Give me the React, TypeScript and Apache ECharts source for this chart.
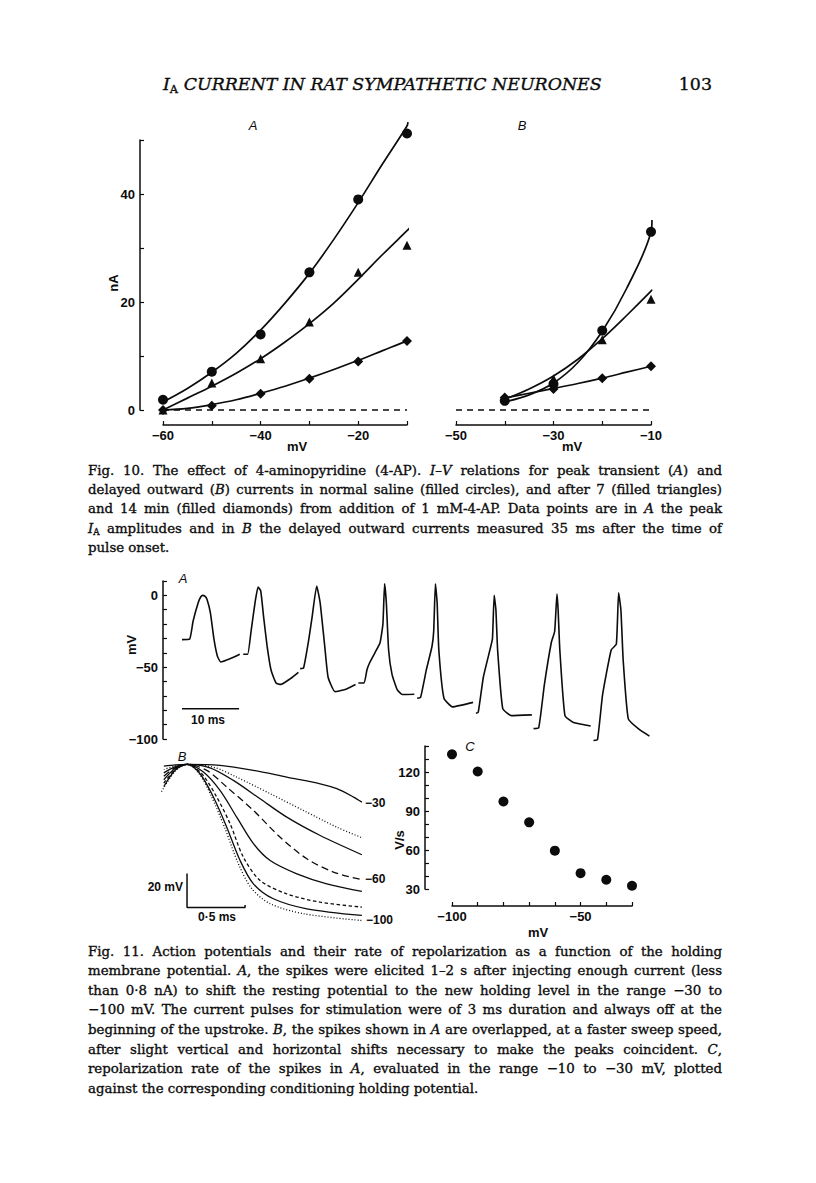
import React, { useEffect, useRef } from "react";
import * as echarts from "echarts";

const M = 8;
const CW = 800;
const CH = 1167;
const INK = "#0c0c0c";
const SANS = '"Liberation Sans", Arial, sans-serif';
const SERIF = '"DejaVu Serif", serif';

// ---------- Fig. 10 data ----------
const fig10AVolts = [-60, -50, -40, -30, -20, -10];
const fig10ACircles = [1.9, 7.1, 14.0, 25.5, 39.0, 51.2];
const fig10ATriangles = [0.0, 5.0, 9.5, 16.3, 25.5, 30.5];
const fig10ADiamonds = [0.0, 0.8, 3.0, 5.8, 9.0, 12.8];
const fig10AFitCircles = [[-60, 1.5], [-55, 4.0], [-50, 7.0], [-45, 10.5], [-40, 14.8], [-35, 19.8], [-30, 25.3], [-25, 31.6], [-20, 38.4], [-15, 45.6], [-10, 52.6], [-9.8, 53.3]];
const fig10AFitTriangles = [[-60, 0.0], [-55, 2.2], [-50, 4.4], [-45, 6.8], [-40, 9.5], [-35, 12.6], [-30, 16.0], [-25, 19.8], [-20, 24.2], [-15, 28.8], [-10, 33.2], [-9.45, 33.7]];
const fig10AFitDiamonds = [[-60, 0.0], [-55, 0.3], [-50, 1.0], [-45, 1.9], [-40, 3.1], [-35, 4.4], [-30, 5.9], [-25, 7.5], [-20, 9.2], [-15, 11.0], [-10, 12.8], [-7.7, 13.8]];

const fig10BVolts = [-40, -30, -20, -10];
const fig10BCircles = [1.7, 4.8, 14.7, 33.0];
const fig10BTriangles = [2.2, 5.8, 13.0, 20.5];
const fig10BDiamonds = [2.3, 3.9, 5.9, 8.1];
const fig10BFitCircles = [[-40, 1.5], [-35, 2.8], [-30, 5.0], [-25, 8.8], [-20, 14.6], [-15, 22.5], [-10, 33.0], [-9.8, 35.2]];
const fig10BFitTriangles = [[-40, 2.0], [-35, 3.9], [-30, 6.3], [-25, 9.4], [-20, 13.2], [-15, 17.5], [-10, 22.0], [-9.8, 22.3]];
const fig10BFitDiamonds = [[-40, 2.2], [-35, 3.1], [-30, 4.0], [-25, 4.9], [-20, 5.9], [-15, 7.0], [-10, 8.1], [-9.3, 8.3]];

const fig10AXLabels = [-60, -40, -20];
const fig10BXLabels = [-50, -30, -10];
const fig10YLabels = [0, 20, 40];

// ---------- Fig. 11 A: spikes (ms, mV) ----------
const spikeTraces = [
  [[0, -30.8], [1.33, -30.5], [1.94, -18], [2.85, -5], [3.3, -1], [3.64, 0], [4.0, -0.5], [4.36, -2.5], [4.97, -12], [5.58, -30], [6.18, -42], [6.79, -46.4], [8.5, -44], [10.12, -41]],
  [[10.73, -41], [11.5, -41], [12.1, -25], [12.8, -5], [13.33, 5.8], [13.8, 3], [14.3, -15], [14.9, -35], [15.6, -52], [16.48, -61], [17.3, -62], [19.0, -58], [20.4, -53.6]],
  [[20.7, -51], [21.3, -50.5], [22.2, -31], [22.8, -15], [23.6, 6.5], [24.2, -5], [25.0, -35], [25.6, -57], [26.8, -67], [28.6, -65.5], [30.4, -62]],
  [[30.9, -61], [31.9, -61], [32.4, -52], [32.8, -47.6], [33.8, -40], [34.7, -33], [35.2, -20], [35.5, 8], [35.8, -5], [36.2, -38], [36.8, -55], [37.7, -65.6], [38.6, -69], [40.7, -68.8]],
  [[41.2, -71.6], [41.8, -71], [42.4, -60], [42.8, -52], [43.8, -35.6], [44.1, -25], [44.4, 8], [44.7, -5], [45.0, -38], [45.9, -71.6], [47.4, -77.6], [51.0, -74.5]],
  [[51.5, -82], [51.9, -81.5], [52.8, -57], [54.1, -35.6], [54.4, -30], [54.7, 0], [55.0, -10], [55.3, -38], [56.2, -78.8], [57.7, -83.7], [61.3, -83.2]],
  [[61.6, -92.8], [62.5, -92.2], [63.5, -62], [64.7, -33], [65.3, -25], [65.7, 1], [65.9, -10], [66.2, -38], [67.1, -83.7], [68.6, -88.5], [71.6, -90.9]],
  [[72.1, -101], [72.8, -100.5], [73.7, -69], [75.2, -38], [76.1, -34], [76.5, 1.7], [76.9, -10], [77.3, -45], [78.2, -86], [80.0, -93], [81.9, -98]],
];
const fig11AYLabels = [0, -50, -100];
const fig11ATimeBar = [[0, -79], [10, -79]];

// ---------- Fig. 11 B: overlapped spikes (ms from peak, mV from peak) ----------
const overlapCurves = [
  [[-0.2, -1], [-0.1, -0.3], [0, 0], [0.284, -0.6], [0.572, -3.5], [0.859, -7.5], [1.147, -11.4], [1.29, -14.3], [1.434, -19.2], [1.506, -22.2]],
  [[-0.2, -3], [-0.1, -0.8], [0, 0], [0.227, -1.6], [0.428, -7.5], [0.716, -17.2], [1.003, -27.1], [1.29, -36.9], [1.506, -43.1]],
  [[-0.2, -5], [-0.1, -1.3], [0, 0], [0.198, -2], [0.399, -9.4], [0.629, -20.2], [0.859, -31], [1.147, -41.8], [1.506, -53.1]],
  [[-0.2, -7], [-0.1, -1.8], [0, 0], [0.17, -3.5], [0.342, -13.3], [0.572, -27.1], [0.802, -42.8], [1.032, -55.5], [1.261, -63.3], [1.506, -67.8]],
  [[-0.2, -9], [-0.1, -2.3], [0, 0], [0.141, -4.5], [0.284, -15.3], [0.428, -31], [0.572, -46.6], [0.716, -56.5], [0.946, -64.3], [1.204, -70.2], [1.506, -74.7]],
  [[-0.2, -11], [-0.1, -2.8], [0, 0], [0.127, -5.5], [0.256, -19.2], [0.371, -34.9], [0.485, -54.5], [0.629, -68.2], [0.859, -76.1], [1.147, -81], [1.506, -83.9]],
  [[-0.2, -13], [-0.1, -3.3], [0, 0], [0.112, -5.5], [0.227, -19.2], [0.342, -36.9], [0.457, -56.5], [0.572, -70.2], [0.744, -79], [1.032, -84.9], [1.506, -88.8]],
  [[-0.22, -16], [-0.1, -3.8], [0, 0], [0.106, -5.5], [0.213, -19.2], [0.328, -37.8], [0.442, -58.4], [0.558, -73.1], [0.716, -81.9], [1.003, -87.8], [1.506, -91.8]],
];
const overlapDash: any[] = ["solid", [1, 2], "solid", [7, 4], "solid", [3.5, 2.5], "solid", [1, 2]];
const overlapScaleBar = [[0, -64.1], [0, -84.1], [0.5, -84.1], [0.5, -82.6]];

// ---------- Fig. 11 C ----------
const holdingPotentials = [-100, -90, -80, -70, -60, -50, -40, -30];
const repolRates = [133.6, 120.4, 97.3, 81.3, 59.5, 42.2, 37.1, 32.5];
const fig11CYLabels = [30, 60, 90, 120];
const fig11CXLabels = [-100, -50];

// ---------- Text ----------
const headerText = "*I*~A~ *CURRENT IN RAT SYMPATHETIC NEURONES*";
const pageNumber = "103";
const fig10Caption = [
  "Fig. 10. The effect of 4-aminopyridine (4-AP). *I–V* relations for peak transient (*A*) and",
  "delayed outward (*B*) currents in normal saline (filled circles), and after 7 (filled triangles)",
  "and 14 min (filled diamonds) from addition of 1 mM-4-AP. Data points are in *A* the peak",
  "*I*~A~ amplitudes and in *B* the delayed outward currents measured 35 ms after the time of",
  "pulse onset.",
];
const fig11Caption = [
  "Fig. 11. Action potentials and their rate of repolarization as a function of the holding",
  "membrane potential. *A*, the spikes were elicited 1–2 s after injecting enough current (less",
  "than 0·8 nA) to shift the resting potential to the new holding level in the range −30 to",
  "−100 mV. The current pulses for stimulation were of 3 ms duration and always off at the",
  "beginning of the upstroke. *B*, the spikes shown in *A* are overlapped, at a faster sweep speed,",
  "after slight vertical and horizontal shifts necessary to make the peaks coincident. *C*,",
  "repolarization rate of the spikes in *A*, evaluated in the range −10 to −30 mV, plotted",
  "against the corresponding conditioning holding potential.",
];

// ---------- helpers ----------
const fmt = (v: number) => (v < 0 ? "\u2212" + Math.abs(v) : String(v));
const pairs = (xs: number[], ys: number[]) => xs.map((x, i) => [x, ys[i]]);

let mctx: CanvasRenderingContext2D | null = null;
function tw(t: string, size: number, italic: boolean, family: string) {
  if (!mctx) mctx = document.createElement("canvas").getContext("2d");
  mctx!.font = `${italic ? "italic " : ""}${size}px ${family}`;
  return mctx!.measureText(t).width;
}
type Run = { text: string; italic: boolean; sub: boolean };
function parseLine(line: string): Run[][] {
  const words: Run[][] = [];
  let italic = false, sub = false;
  for (const w of line.split(" ")) {
    const runs: Run[] = [];
    let cur = "";
    for (const ch of w) {
      if (ch === "*" || ch === "~") {
        if (cur) runs.push({ text: cur, italic, sub });
        cur = "";
        if (ch === "*") italic = !italic; else sub = !sub;
      } else cur += ch;
    }
    if (cur) runs.push({ text: cur, italic, sub });
    words.push(runs);
  }
  return words;
}
const SUB = 0.66;
const runW = (r: Run, s: number, f: string) => tw(r.text, r.sub ? s * SUB : s, r.italic && !r.sub, f);
function naturalWidth(line: string, s: number, f: string) {
  const words = parseLine(line);
  const w = words.reduce((a, rs) => a + rs.reduce((b, r) => b + runW(r, s, f), 0), 0);
  return w + (words.length - 1) * tw(" ", s, false, f);
}
function layoutLines(lines: string[], x0: number, x1: number, y0: number, lh: number, s: number, f: string, justifyAll: boolean) {
  const els: any[] = [];
  lines.forEach((line, i) => {
    const words = parseLine(line);
    const widths = words.map((rs) => rs.reduce((b, r) => b + runW(r, s, f), 0));
    const total = widths.reduce((a, b) => a + b, 0);
    const justify = (justifyAll || i < lines.length - 1) && words.length > 1;
    const gap = justify ? (x1 - x0 - total) / (words.length - 1) : tw(" ", s, false, f);
    let x = x0;
    const y = y0 + i * lh;
    words.forEach((rs) => {
      rs.forEach((r) => {
        els.push({
          type: "text", x: x - M, y: y - M + (r.sub ? s * 0.3 : 0), silent: true,
          style: {
            text: r.text, fontSize: r.sub ? s * SUB : s, fontFamily: f,
            fontStyle: r.italic && !r.sub ? "italic" : "normal", fill: INK,
            stroke: INK, lineWidth: 0.35,
            align: "left", verticalAlign: "middle",
          },
        });
        x += runW(r, s, f);
      });
      x += gap;
    });
  });
  return els;
}
function label(text: string, x: number, y: number, o: any = {}) {
  return {
    type: "text", x: x - M, y: y - M, rotation: o.rot || 0, silent: true,
    style: {
      text, fontSize: o.size || 13, fontFamily: o.family || SANS,
      fontStyle: o.italic ? "italic" : "normal", fontWeight: o.weight || "normal", fill: INK,
      stroke: o.stroke ? INK : undefined, lineWidth: o.stroke ? 0.35 : 0,
      align: o.align || "center", verticalAlign: "middle",
    },
  };
}

const axisLine = { show: true, onZero: false, lineStyle: { color: INK, width: 1.5 } };
const axisTick = { show: true, inside: true, length: 4, lineStyle: { color: INK, width: 1.2 } };
const labelStyle = (list: number[], margin = 5) => ({
  show: true, color: INK, fontSize: 13, fontFamily: SANS, fontWeight: "bold", margin,
  showMinLabel: true, showMaxLabel: true,
  formatter: (v: number) => (list.indexOf(v) >= 0 ? fmt(v) : ""),
});

function buildOption() {
  const grids = [
    { left: 163, top: 140, width: 244, height: 270 }, // Fig10 A
    { left: 456, top: 140, width: 195, height: 270 }, // Fig10 B
    { left: 182, top: 581, width: 468, height: 158 }, // Fig11 A
    { left: 158, top: 761, width: 209, height: 165 }, // Fig11 B
    { left: 452, top: 746, width: 180, height: 143 }, // Fig11 C
  ].map((g) => ({ left: g.left - M, top: g.top - M, width: g.width, height: g.height, containLabel: false, outerBoundsMode: "none" }));

  const hidden = { show: false };
  const xAxis: any[] = [
    { gridIndex: 0, type: "value", min: -60, max: -10, interval: 10, offset: 15, axisLine, axisTick, axisLabel: labelStyle(fig10AXLabels, 4), splitLine: hidden },
    { gridIndex: 1, type: "value", min: -50, max: -10, interval: 10, offset: 15, axisLine, axisTick, axisLabel: labelStyle(fig10BXLabels, 4), splitLine: hidden },
    { gridIndex: 2, type: "value", min: 0, max: 82, show: false },
    { gridIndex: 3, type: "value", min: -0.25, max: 1.55, show: false },
    { gridIndex: 4, type: "value", min: -100, max: -30, interval: 10, offset: 17, axisLine, axisTick, axisLabel: labelStyle(fig11CXLabels, 4), splitLine: hidden },
  ];
  const yAxis: any[] = [
    { gridIndex: 0, type: "value", min: 0, max: 50, interval: 10, offset: 23, axisLine, axisTick, axisLabel: labelStyle(fig10YLabels, 5), splitLine: hidden },
    { gridIndex: 1, type: "value", min: 0, max: 50, show: false },
    { gridIndex: 2, type: "value", min: -100, max: 10, interval: 10, offset: 19, axisLine, axisTick, axisLabel: labelStyle(fig11AYLabels, 5), splitLine: hidden },
    { gridIndex: 3, type: "value", min: -95, max: 2, show: false },
    { gridIndex: 4, type: "value", min: 30, max: 140, interval: 10, offset: 27, axisLine, axisTick, axisLabel: labelStyle(fig11CYLabels, 5), splitLine: hidden },
  ];

  const line = (gi: number, data: any[], o: any = {}) => ({
    type: "line", xAxisIndex: gi, yAxisIndex: gi, data, showSymbol: false, symbol: "none",
    smooth: o.smooth ?? 0.35, clip: false, z: 2, silent: true,
    lineStyle: { color: INK, width: o.width || 1.7, type: o.dash || "solid", opacity: 1 },
  });
  const scatter = (gi: number, data: any[], symbol: string, size: any) => ({
    type: "scatter", xAxisIndex: gi, yAxisIndex: gi, data, symbol, symbolSize: size, clip: false, z: 3, silent: true,
    itemStyle: { color: INK, opacity: 1 },
  });

  const series: any[] = [
    line(0, fig10AFitCircles), line(0, fig10AFitTriangles), line(0, fig10AFitDiamonds),
    line(0, [[-60, 0], [-10, 0]], { smooth: false, width: 1.3, dash: [6, 5] }),
    scatter(0, pairs(fig10AVolts, fig10ACircles), "circle", 10),
    scatter(0, pairs(fig10AVolts, fig10ATriangles), "triangle", 9),
    scatter(0, pairs(fig10AVolts, fig10ADiamonds), "diamond", [10, 10]),
    line(1, fig10BFitCircles), line(1, fig10BFitTriangles), line(1, fig10BFitDiamonds),
    line(1, [[-50, 0], [-10, 0]], { smooth: false, width: 1.3, dash: [6, 5] }),
    scatter(1, pairs(fig10BVolts, fig10BCircles), "circle", 10),
    scatter(1, pairs(fig10BVolts, fig10BTriangles), "triangle", 9),
    scatter(1, pairs(fig10BVolts, fig10BDiamonds), "diamond", [10, 10]),
    ...spikeTraces.map((t) => line(2, t, { smooth: 0.15, width: 1.6 })),
    line(2, fig11ATimeBar, { smooth: false, width: 1.5 }),
    ...overlapCurves.map((c, i) => line(3, c, { smooth: 0.3, width: 1.3, dash: overlapDash[i] })),
    line(3, overlapScaleBar, { smooth: false, width: 1.5 }),
    scatter(4, pairs(holdingPotentials, repolRates), "circle", 10),
  ];

  const block0 = 88, block1 = 722;
  const allJust = [...fig10Caption.slice(0, -1), ...fig11Caption.slice(0, -1)];
  const maxW = Math.max(...allJust.map((l) => naturalWidth(l, 20, SERIF) / 20));
  const capSize = Math.min(14.5, ((block1 - block0) / maxW) * 0.99);
  const headSize = (602 - 163) / (naturalWidth(headerText, 20, SERIF) / 20);

  const graphics: any[] = [
    ...layoutLines([headerText], 163, 602, 84, 0, headSize, SERIF, false),
    label(pageNumber, 712, 84, { family: SERIF, size: headSize, align: "right", stroke: true }),
    label("A", 253, 125, { italic: true }),
    label("B", 522, 125, { italic: true }),
    label("nA", 113, 283, { rot: Math.PI / 2, weight: "bold" }),
    label("mV", 297, 446, { weight: "bold" }),
    label("mV", 572, 446, { weight: "bold" }),
    ...layoutLines(fig10Caption, block0, block1, 470, 19.4, capSize, SERIF, false),
    label("A", 183, 578, { italic: true }),
    label("mV", 131, 645, { rot: Math.PI / 2, weight: "bold" }),
    label("10 ms", 208, 720, { size: 12, weight: "bold" }),
    label("B", 182, 756, { italic: true }),
    label("20 mV", 183, 887, { size: 12, align: "right", weight: "bold" }),
    label("0·5 ms", 217, 917, { size: 12, weight: "bold" }),
    label("\u221230", 365, 803, { size: 12, align: "left", weight: "bold" }),
    label("\u221260", 365, 879, { size: 12, align: "left", weight: "bold" }),
    label("\u2212100", 366, 920, { size: 12, align: "left", weight: "bold" }),
    label("C", 470, 746, { italic: true }),
    label("V/s", 399, 840, { rot: Math.PI / 2, weight: "bold" }),
    label("mV", 538, 932, { weight: "bold" }),
    ...layoutLines(fig11Caption, block0, block1, 951, 19.6, capSize, SERIF, false),
  ];

  return {
    animation: false,
    backgroundColor: "#ffffff",
    grid: grids,
    xAxis,
    yAxis,
    series,
    graphic: { elements: graphics },
  };
}

export default function App() {
  const ref = useRef<HTMLDivElement>(null);
  useEffect(() => {
    const chart = echarts.init(ref.current!, null, { renderer: "svg" });
    chart.setOption(buildOption() as any);
    return () => chart.dispose();
  }, []);
  return <div ref={ref} style={{ width: CW, height: CH }} />;
}
